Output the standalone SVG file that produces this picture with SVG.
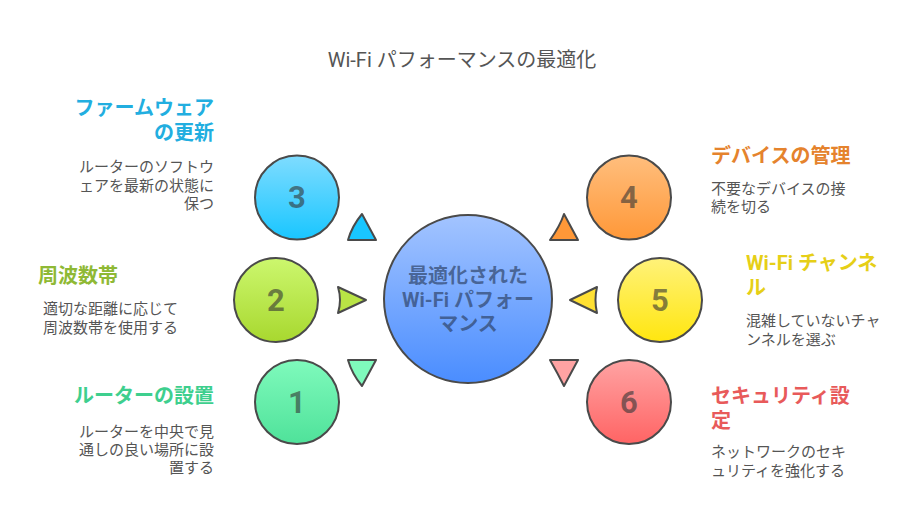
<svg xmlns="http://www.w3.org/2000/svg" width="924" height="529" viewBox="0 0 924 529">
<style>
text{font-family:Roboto,"Noto Sans CJK JP",sans-serif}
.s{stroke:#4a4a4a;stroke-width:2;stroke-linejoin:round}
.n{font-size:31px;font-weight:700;text-anchor:middle;fill-opacity:.6;fill:#333}
.h{font-size:20px;font-weight:700}
.b{font-size:15px;fill:#555}
.e{text-anchor:end}
.c{font-size:20px;font-weight:700;text-anchor:middle;fill:#2f4468;fill-opacity:.7}
</style>
<defs>
<linearGradient id="gm" x1="0" y1="0" x2="0" y2="1"><stop offset="0" stop-color="#a3c4ff"/><stop offset="1" stop-color="#4a8dff"/></linearGradient>
<linearGradient id="g3" x1="0" y1="0" x2="0" y2="1"><stop offset="0" stop-color="#7fdcff"/><stop offset="1" stop-color="#19c6ff"/></linearGradient>
<linearGradient id="g2" x1="0" y1="0" x2="0" y2="1"><stop offset="0" stop-color="#ccf76e"/><stop offset="1" stop-color="#a8d82f"/></linearGradient>
<linearGradient id="g1" x1="0" y1="0" x2="0" y2="1"><stop offset="0" stop-color="#7ffabc"/><stop offset="1" stop-color="#4fe29a"/></linearGradient>
<linearGradient id="g4" x1="0" y1="0" x2="0" y2="1"><stop offset="0" stop-color="#ffbe7d"/><stop offset="1" stop-color="#ff9838"/></linearGradient>
<linearGradient id="g5" x1="0" y1="0" x2="0" y2="1"><stop offset="0" stop-color="#fff27a"/><stop offset="1" stop-color="#ffe60f"/></linearGradient>
<linearGradient id="g6" x1="0" y1="0" x2="0" y2="1"><stop offset="0" stop-color="#ffa3a3"/><stop offset="1" stop-color="#ff6464"/></linearGradient>
</defs>
<text x="462" y="67" font-size="20" fill="#555" text-anchor="middle">Wi-Fi パフォーマンスの最適化</text>
<g id="connectors">
<path class="s" fill="#19c6ff" d="M362 214L376 240H348Q352 226 362 214Z"/>
<path class="s" fill="#b9e445" d="M366 300L338 287Q342 300 338 313Z"/>
<path class="s" fill="#7ffabc" d="M362 386L376 360H348Q352 374 362 386Z"/>
<path class="s" fill="#ff9838" d="M564 214L578 240H550Q560 226 564 214Z"/>
<path class="s" fill="#ffe033" d="M570 300L597 287Q594 300 597 313Z"/>
<path class="s" fill="#ffa3a3" d="M564 386L578 360H550Q558 374 564 386Z"/>
</g>
<g id="center"><circle class="s" cx="468" cy="299" r="84" fill="url(#gm)"/>
<text class="c" x="468" y="283">最適化された</text><text class="c" x="468" y="307">Wi-Fi パフォー</text><text class="c" x="468" y="331">マンス</text></g>
<g id="node3"><circle class="s" cx="297" cy="197.5" r="42" fill="url(#g3)"/><text class="n" x="297" y="208">3</text>
<text class="h e" fill="#22aee0" x="214" y="115">ファームウェア</text><text class="h e" fill="#22aee0" x="214" y="140">の更新</text>
<text class="b e" x="214" y="172">ルーターのソフトウ</text><text class="b e" x="214" y="191">ェアを最新の状態に</text><text class="b e" x="214" y="209">保つ</text></g>
<g id="node2"><circle class="s" cx="276" cy="300" r="42" fill="url(#g2)"/><text class="n" x="276" y="311">2</text>
<text class="h" fill="#8fb935" x="38" y="283">周波数帯</text>
<text class="b" x="43" y="314">適切な距離に応じて</text><text class="b" x="43" y="333">周波数帯を使用する</text></g>
<g id="node1"><circle class="s" cx="297" cy="402" r="42" fill="url(#g1)"/><text class="n" x="297" y="413">1</text>
<text class="h e" fill="#3ecf8e" x="214" y="403">ルーターの設置</text>
<text class="b e" x="214" y="437">ルーターを中央で見</text><text class="b e" x="214" y="455">通しの良い場所に設</text><text class="b e" x="214" y="473">置する</text></g>
<g id="node4"><circle class="s" cx="629" cy="197.5" r="42" fill="url(#g4)"/><text class="n" x="629" y="208">4</text>
<text class="h" fill="#e5832d" x="711" y="163">デバイスの管理</text>
<text class="b" x="711" y="194">不要なデバイスの接</text><text class="b" x="711" y="212">続を切る</text></g>
<g id="node5"><circle class="s" cx="660" cy="300" r="42" fill="url(#g5)"/><text class="n" x="660" y="311">5</text>
<text class="h" fill="#e6cf17" x="746" y="270">Wi-Fi チャンネ</text><text class="h" fill="#e6cf17" x="746" y="295">ル</text>
<text class="b" x="746" y="326">混雑していないチャ</text><text class="b" x="746" y="345">ンネルを選ぶ</text></g>
<g id="node6"><circle class="s" cx="629" cy="402" r="42" fill="url(#g6)"/><text class="n" x="629" y="413">6</text>
<text class="h" fill="#e85a5a" x="711" y="403">セキュリティ設</text><text class="h" fill="#e85a5a" x="711" y="428">定</text>
<text class="b" x="711" y="457">ネットワークのセキ</text><text class="b" x="711" y="476">ュリティを強化する</text></g>
</svg>
